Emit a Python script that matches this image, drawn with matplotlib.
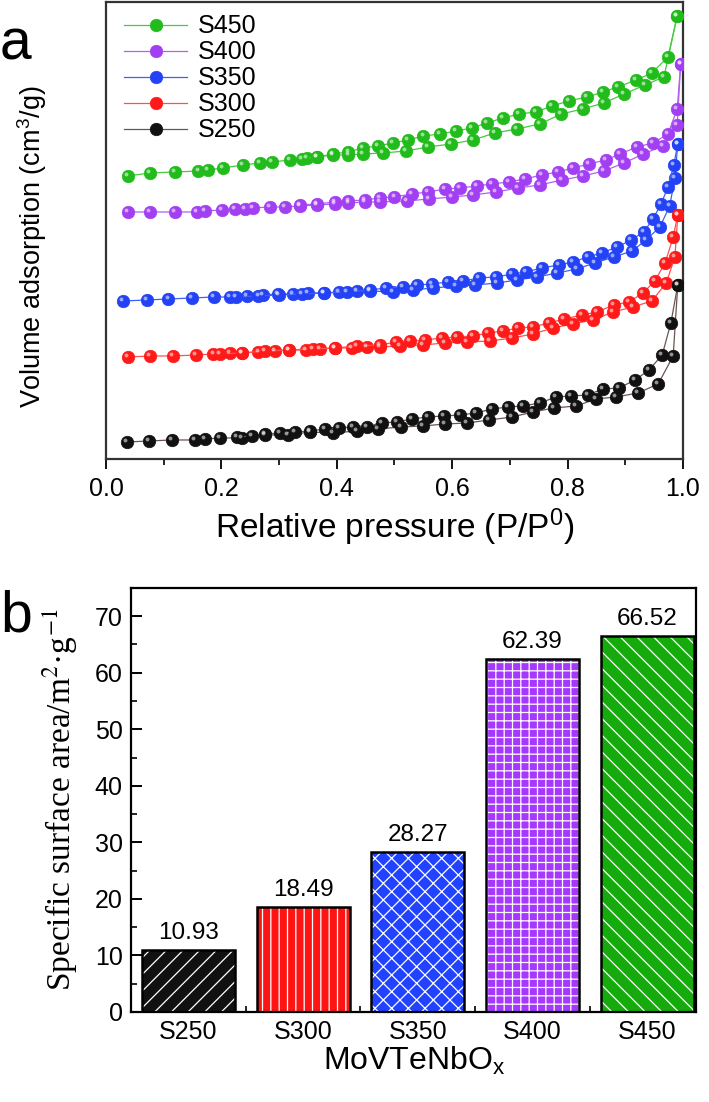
import numpy as np
import matplotlib
matplotlib.use("Agg")
import matplotlib.pyplot as plt
from matplotlib.transforms import offset_copy
from matplotlib.ticker import MultipleLocator

plt.rcParams['font.family'] = ['Liberation Sans', 'DejaVu Sans']
plt.rcParams['mathtext.fontset'] = 'custom'
plt.rcParams['mathtext.rm'] = 'Liberation Sans'
plt.rcParams['mathtext.it'] = 'Liberation Sans:italic'
plt.rcParams['hatch.linewidth'] = 0.9

# ---- panel a: isotherms (relative pressure, volume in arbitrary units) ----
samples = ["S450", "S400", "S350", "S300", "S250"]
colors = ["#22bb1c", "#a23ff2", "#2342f5", "#ff1a1a", "#111111"]
line_colors = ["#44cc3c", "#b060f5", "#4060f5", "#ff5050", "#6b5550"]

p_ads_450 = [0.038, 0.076, 0.12, 0.16, 0.177, 0.203, 0.237, 0.267, 0.288, 0.319, 0.348, 0.366, 0.393, 0.42,
             0.445, 0.48, 0.52, 0.558, 0.598, 0.636, 0.674, 0.712, 0.752, 0.789, 0.826, 0.863, 0.898, 0.934,
             0.967, 0.99]
v_ads_450 = [283, 286, 287, 288, 289, 291, 294, 296, 297, 299, 301, 302, 304, 304, 305, 306, 308, 312, 315, 319,
             326, 330, 335, 345, 350, 356, 365, 374, 382, 443]
p_des_450 = [0.99, 0.974, 0.946, 0.919, 0.887, 0.861, 0.834, 0.802, 0.773, 0.745, 0.716, 0.688, 0.66, 0.634,
             0.607, 0.579, 0.55, 0.523, 0.497, 0.471, 0.445, 0.42, 0.393, 0.366, 0.34]
v_des_450 = [443, 402, 386, 379, 372, 367, 362, 358, 353, 347, 345, 341, 336, 331, 328, 325, 323, 319, 316, 313,
             311, 307, 305, 302, 300]

p_ads_400 = [0.038, 0.076, 0.12, 0.158, 0.172, 0.201, 0.224, 0.241, 0.255, 0.284, 0.31, 0.336, 0.366, 0.397, 0.42,
             0.449, 0.475, 0.521, 0.56, 0.6, 0.636, 0.676, 0.714, 0.752, 0.79, 0.827, 0.863, 0.898, 0.931, 0.965,
             0.99, 0.996]
v_ads_400 = [247, 247, 247, 247, 248, 249, 250, 250, 251, 252, 252, 253, 254, 255, 256, 257, 257, 258, 260, 262,
             264, 267, 271, 274, 279, 283, 288, 296, 305, 313, 334, 395]
p_des_400 = [0.996, 0.99, 0.974, 0.948, 0.92, 0.891, 0.866, 0.837, 0.809, 0.783, 0.755, 0.726, 0.698, 0.669, 0.643,
             0.614, 0.588, 0.558, 0.53, 0.50, 0.475, 0.449, 0.42, 0.397, 0.366, 0.336]
v_des_400 = [395, 350, 325, 316, 312, 305, 299, 295, 291, 287, 284, 280, 277, 275, 273, 271, 270, 267, 265, 262,
             261, 259, 258, 257, 255, 254]

p_ads_350 = [0.03, 0.071, 0.108, 0.149, 0.187, 0.215, 0.244, 0.272, 0.298, 0.324, 0.35, 0.378, 0.404, 0.435,
             0.458, 0.497, 0.532, 0.567, 0.607, 0.64, 0.678, 0.712, 0.747, 0.782, 0.816, 0.847, 0.88, 0.912,
             0.936, 0.96, 0.977, 0.986, 0.991]
v_ads_350 = [158, 159, 160, 161, 162, 162, 163, 164, 165, 165, 166, 166, 167, 168, 168, 167, 169, 171, 173, 174,
             176, 179, 182, 186, 190, 196, 202, 208, 219, 232, 253, 281, 315]
p_des_350 = [0.991, 0.984, 0.974, 0.962, 0.948, 0.932, 0.91, 0.886, 0.859, 0.835, 0.809, 0.785, 0.755, 0.728,
             0.704, 0.676, 0.646, 0.619, 0.593, 0.565, 0.539, 0.515, 0.485, 0.458, 0.418, 0.378, 0.34, 0.30,
             0.264, 0.225]
v_des_350 = [315, 294, 272, 255, 240, 227, 219, 212, 206, 202, 197, 194, 191, 187, 185, 182, 181, 178, 177, 175,
             174, 172, 171, 169, 167, 166, 165, 164, 163, 162]

p_ads_300 = [0.038, 0.076, 0.116, 0.156, 0.186, 0.215, 0.236, 0.264, 0.293, 0.317, 0.347, 0.371, 0.397, 0.426,
             0.452, 0.475, 0.51, 0.549, 0.588, 0.626, 0.666, 0.704, 0.74, 0.775, 0.809, 0.844, 0.879, 0.913,
             0.946, 0.971, 0.986, 0.991]
v_ads_300 = [102, 103, 103, 104, 105, 106, 106, 107, 108, 109, 109, 110, 111, 111, 112, 112, 113, 114, 116, 117,
             118, 121, 125, 131, 135, 139, 147, 152, 158, 176, 202, 244]
p_des_300 = [0.991, 0.983, 0.969, 0.951, 0.931, 0.906, 0.88, 0.851, 0.825, 0.794, 0.768, 0.74, 0.714, 0.688,
             0.662, 0.636, 0.608, 0.582, 0.553, 0.527, 0.503, 0.475, 0.435, 0.397, 0.359, 0.317, 0.276, 0.236,
             0.198]
v_des_300 = [244, 222, 196, 178, 166, 157, 154, 147, 144, 140, 136, 132, 131, 128, 126, 123, 122, 121, 119, 118,
             117, 114, 113, 111, 110, 109, 108, 106, 105]

p_ads_250 = [0.036, 0.075, 0.114, 0.154, 0.172, 0.198, 0.236, 0.276, 0.315, 0.354, 0.393, 0.435, 0.471, 0.511,
             0.549, 0.588, 0.626, 0.664, 0.704, 0.74, 0.776, 0.815, 0.849, 0.884, 0.922, 0.957, 0.983, 0.991]
v_ads_250 = [17, 18, 19, 19, 20, 21, 21, 24, 24, 27, 26, 28, 30, 32, 33, 35, 36, 39, 42, 47, 51, 53, 60, 62, 66,
             75, 103, 174]
p_des_250 = [0.991, 0.979, 0.964, 0.941, 0.917, 0.889, 0.861, 0.835, 0.806, 0.78, 0.752, 0.723, 0.697, 0.669,
             0.641, 0.614, 0.586, 0.558, 0.53, 0.504, 0.478, 0.452, 0.428, 0.404, 0.38, 0.354, 0.328, 0.302,
             0.276, 0.253, 0.227]
v_des_250 = [174, 136, 104, 89, 79, 71, 70, 64, 63, 62, 56, 53, 52, 50, 46, 44, 43, 42, 40, 37, 36, 32, 32, 31,
             30, 28, 27, 26, 25, 23, 22]

isotherms = {
    "S450": (p_ads_450, v_ads_450, p_des_450, v_des_450),
    "S400": (p_ads_400, v_ads_400, p_des_400, v_des_400),
    "S350": (p_ads_350, v_ads_350, p_des_350, v_des_350),
    "S300": (p_ads_300, v_ads_300, p_des_300, v_des_300),
    "S250": (p_ads_250, v_ads_250, p_des_250, v_des_250),
}

# ---- panel b: BET surface areas ----
bar_labels = ["S250", "S300", "S350", "S400", "S450"]
areas = [10.93, 18.49, 28.27, 62.39, 66.52]
bar_colors = ["#111111", "#ff1414", "#2142ff", "#a637ff", "#16ab0c"]
bar_hatches = ["//", "||", "xx", "++", "\\\\"]

fig = plt.figure(figsize=(7.09, 11.02), dpi=100)

# panel a
ax1 = fig.add_axes([0.1495, 0.5835, 0.8138, 0.4147])
ms = 9
handles = []
for name, c, lc in zip(samples, colors, line_colors):
    pa, va, pd_, vd = isotherms[name]
    h, = ax1.plot(pa, va, '-', color=lc, lw=0.9, marker='o', ms=ms, mfc=c,
                  mec=c, mew=0.5, label=name, zorder=3)
    ax1.plot(pd_, vd, '-', color=lc, lw=0.9, marker='o', ms=ms, mfc=c,
             mec=c, mew=0.5, zorder=3)
    # glossy highlight on the balls
    hl = offset_copy(ax1.transData, fig=fig, x=-1.3, y=1.6, units='points')
    ax1.plot(pa + pd_, va + vd, 'o', ms=2.8, color='white', alpha=0.55,
             mec='none', transform=hl, zorder=4)
    handles.append(h)

ax1.set_xlim(0, 1.0)
ax1.set_ylim(0, 457)
ax1.set_yticks([])
ax1.xaxis.set_major_locator(MultipleLocator(0.2))
ax1.xaxis.set_minor_locator(MultipleLocator(0.1))
ax1.tick_params(axis='x', which='major', direction='out', length=7, width=1.3,
                labelsize=18, pad=6)
ax1.tick_params(axis='x', which='minor', direction='out', length=4, width=1.2)
for s in ax1.spines.values():
    s.set_linewidth(1.6)
    s.set_color('#333333')
ax1.set_xlabel("Relative pressure (P/P$^0$)", fontsize=24)
ax1.xaxis.set_label_coords(0.5, -0.105)
ax1.set_ylabel("Volume adsorption (cm$^3$/g)", fontsize=19.5)
ax1.yaxis.set_label_coords(-0.098, 0.465)
ax1.legend(handles=handles, loc='upper left', frameon=False, fontsize=18,
           handlelength=2.5, handletextpad=0.45, labelspacing=0.08,
           borderaxespad=0.1, bbox_to_anchor=(0.01, 1.0))

# panel b
ax2 = fig.add_axes([0.1848, 0.0817, 0.7975, 0.3848])
x = np.arange(1, len(bar_labels) + 1)
for xi, a, c, hch in zip(x, areas, bar_colors, bar_hatches):
    ax2.bar(xi, a, width=0.81, color=c, edgecolor='white', hatch=hch,
            linewidth=0, zorder=2)
ax2.bar(x, areas, width=0.81, color='none', edgecolor='black',
        linewidth=1.8, zorder=3)
for xi, a in zip(x, areas):
    ax2.text(xi, a + 1.1, f"{a:.2f}", ha='center', va='bottom', fontsize=17.5)

ax2.set_xlim(0.5, 5.43)
ax2.set_ylim(0, 75)
ax2.set_xticks(x)
ax2.set_xticklabels(bar_labels)
ax2.set_xticks(x[:-1] + 0.5, minor=True)
ax2.yaxis.set_major_locator(MultipleLocator(10))
ax2.yaxis.set_minor_locator(MultipleLocator(5))
ax2.tick_params(which='major', direction='in', length=8, width=1.4,
                labelsize=18, pad=6)
ax2.tick_params(which='minor', direction='in', length=4, width=1.2)
for s in ax2.spines.values():
    s.set_linewidth(1.6)
ax2.set_xlabel("MoVTeNbO$_\\mathrm{x}$", fontsize=23)
ax2.xaxis.set_label_coords(0.5, -0.078)
ax2.set_ylabel("Specific surface area/m$^2$·g$^{-1}$", fontsize=24,
               family='Liberation Serif', math_fontfamily='stix')
ax2.yaxis.set_label_coords(-0.09, 0.5)

fig.text(0.0, 1 - 60 / 1102, "a", fontsize=41, va='baseline')
fig.text(0.0, 1 - 632 / 1102, "b", fontsize=41, va='baseline')

fig.savefig("out.png", dpi=100)
